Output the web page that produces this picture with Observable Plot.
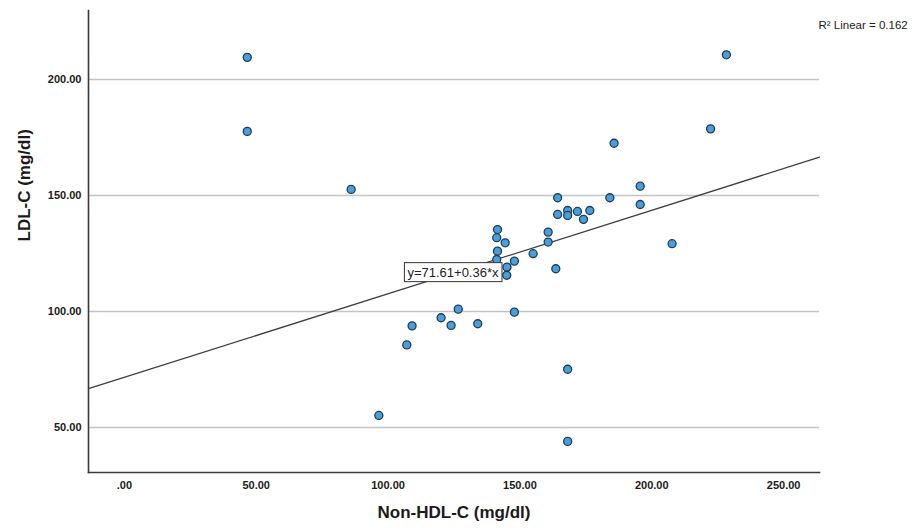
<!DOCTYPE html>
<html>
<head>
<meta charset="utf-8">
<script src="https://cdn.jsdelivr.net/npm/d3@7"></script>
<script src="https://cdn.jsdelivr.net/npm/@observablehq/plot@0.6"></script>
<style>
  html, body { margin: 0; padding: 0; background: #fff; }
  #chart { width: 919px; height: 530px; }
  svg { font-family: "Liberation Sans", Arial, sans-serif; }
</style>
</head>
<body>
<div id="chart"></div>
<script>
// Data (Non-HDL-C vs LDL-C, mg/dl)
const nonHdl = [46.6, 46.6, 86.0, 96.5, 109.1, 107.1, 120.1, 123.9, 126.6, 134.0,
  147.9, 141.5, 141.2, 144.4, 141.5, 141.2, 145.1, 145.0, 147.9, 155.0,
  160.7, 160.7, 163.6, 164.3, 164.3, 168.1, 168.1, 171.8, 174.1, 176.5,
  184.1, 195.6, 195.6, 185.7, 222.3, 207.7, 228.3, 168.1, 168.1];
const ldl = [209.5, 177.6, 152.6, 55.2, 93.8, 85.6, 97.3, 94.0, 101.0, 94.7,
  99.7, 135.3, 131.8, 129.6, 126.0, 122.4, 119.1, 115.6, 121.7, 124.9,
  134.2, 129.9, 118.4, 149.0, 141.8, 143.5, 141.4, 143.1, 139.7, 143.5,
  149.0, 154.0, 146.1, 172.5, 178.7, 129.2, 210.6, 75.1, 44.0];

const xTicks = [0, 50, 100, 150, 200, 250];
const yTicks = [50, 100, 150, 200];
const intercept = 71.61;
const slope = 0.36;
const r2 = 0.162;
const xLabel = "Non-HDL-C (mg/dl)";
const yLabel = "LDL-C (mg/dl)";
const eqLabel = "y=71.61+0.36*x";
const r2Label = "R\u00B2 Linear = " + r2;

const points = nonHdl.map((x, i) => ({x, y: ldl[i]}));
const xDomain = [-13.6, 263.6];
const fitLine = xDomain.map(x => ({x, y: intercept + slope * x}));
const fmt = d => d === 0 ? ".00" : d.toFixed(2);

const plot = Plot.plot({
  width: 919,
  height: 530,
  marginLeft: 88,
  marginRight: 100,
  marginTop: 10,
  marginBottom: 58,
  style: {fontFamily: "'Liberation Sans', Arial, sans-serif", background: "#fff"},
  x: {domain: xDomain},
  y: {domain: [30.6, 229.7]},
  marks: [
    Plot.gridY(yTicks, {stroke: "#c4c4c4", strokeOpacity: 1, strokeWidth: 1.5}),
    Plot.axisX(xTicks, {tickSize: 0, tickPadding: 9, tickFormat: fmt, fontSize: 11, fontWeight: "bold", fill: "#1a1a1a", label: null}),
    Plot.axisY(yTicks, {tickSize: 0, tickPadding: 7, tickFormat: fmt, fontSize: 11, fontWeight: "bold", fill: "#1a1a1a", label: null}),
    Plot.frame({anchor: "left", stroke: "#3a3a3a", strokeWidth: 1.6}),
    Plot.frame({anchor: "bottom", stroke: "#3a3a3a", strokeWidth: 1.6}),
    Plot.line(fitLine, {x: "x", y: "y", stroke: "#3c3c3c", strokeWidth: 1.3}),
    Plot.dot(points, {x: "x", y: "y", r: 4, fill: "#4a9fd9", stroke: "#1d3c5c", strokeWidth: 1.3}),
    Plot.text([eqLabel], {x: 124.6, y: 116.8, text: d => d, fontSize: 13, fill: "#222"}),
    Plot.text([yLabel], {frameAnchor: "left", dx: -64, rotate: -90, text: d => d, fontSize: 17, fontWeight: "bold", fill: "#1a1a1a"}),
    Plot.text([xLabel], {frameAnchor: "bottom", dy: 45, text: d => d, fontSize: 17, fontWeight: "bold", fill: "#1a1a1a"}),
    Plot.text([r2Label], {frameAnchor: "top-right", textAnchor: "start", dx: -1, dy: 10, text: d => d, fontSize: 11.5, fill: "#222"})
  ]
});

document.getElementById("chart").appendChild(plot);

// White box with border around the equation label
d3.select(plot).selectAll("text").each(function() {
  if (this.textContent === eqLabel) {
    const bb = this.getBBox();
    const rect = document.createElementNS("http://www.w3.org/2000/svg", "rect");
    rect.setAttribute("x", bb.x - 3);
    rect.setAttribute("y", bb.y - 2);
    rect.setAttribute("width", bb.width + 6);
    rect.setAttribute("height", bb.height + 4);
    rect.setAttribute("fill", "#fff");
    rect.setAttribute("stroke", "#333");
    rect.setAttribute("stroke-width", "1");
    rect.setAttribute("transform", this.getAttribute("transform") || "");
    this.parentNode.insertBefore(rect, this);
  }
});
</script>
</body>
</html>
